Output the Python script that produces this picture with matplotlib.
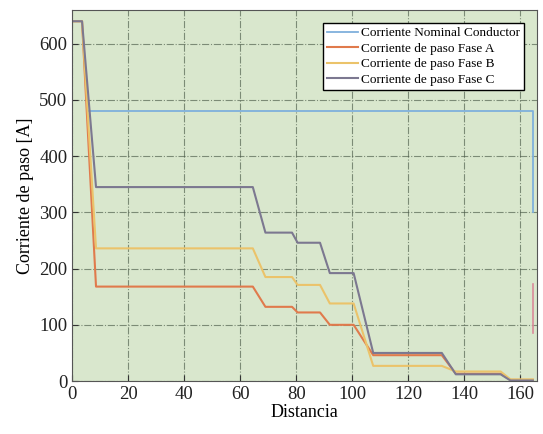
import numpy as np
import matplotlib
matplotlib.use('Agg')
import matplotlib.pyplot as plt

plt.rcParams['font.family'] = ['Liberation Serif', 'DejaVu Serif']

# corriente nominal del conductor
x_nom = [6, 164.5, 164.5]
y_nom = [480, 480, 300]

# corrientes de paso por fase
x_fase = [0, 3.5, 8.5, 64.5, 69, 78.5, 80.5, 88.5, 92, 100.5, 107.5, 132, 137, 153, 156.5, 164.5]
y_A = [640, 640, 168, 168, 132, 132, 122, 122, 100, 100, 46, 46, 13, 13, 2, 2]
y_B = [640, 640, 236, 236, 185, 185, 171, 171, 138, 138, 27, 27, 17, 17, 3, 3]
y_C = [640, 640, 345, 345, 264, 264, 246, 246, 192, 192, 50, 50, 12, 12, 1, 1]

# tramo suelto al final (fase A)
x_tramo = [164.5, 164.5]
y_tramo = [172, 86]

fig = plt.figure(figsize=(5.43, 4.34), dpi=100)
ax = fig.add_axes([0.133, 0.122, 0.856, 0.855])
ax.set_facecolor('#d9e7cd')

ax.plot(x_nom, y_nom, color='#7fb0dc', lw=1.3, label='Corriente Nominal Conductor')
ax.plot(x_fase, y_A, color='#e07a4c', lw=1.5, label='Corriente de paso Fase A')
ax.plot(x_fase, y_B, color='#ebc36a', lw=1.5, label='Corriente de paso Fase B')
ax.plot(x_fase, y_C, color='#7c7890', lw=1.5, label='Corriente de paso Fase C')
ax.plot(x_tramo, y_tramo, color='#d98a9a', lw=1.2)

ax.set_xlim(0, 166)
ax.set_ylim(0, 660)
ax.set_xticks(np.arange(0, 161, 20))
ax.set_yticks(np.arange(0, 601, 100))
ax.tick_params(labelsize=13.5, direction='in', length=4, colors='#333333')
for lab in ax.get_xticklabels() + ax.get_yticklabels():
    lab.set_color('#222222')
ax.grid(True, color='#4a5a48', linestyle='-.', linewidth=0.8, alpha=0.65)
for s in ax.spines.values():
    s.set_color('#555555')

ax.set_xlabel('Distancia', fontsize=13, labelpad=1)
ax.set_ylabel('Corriente de paso [A]', fontsize=13, labelpad=4)

leg = ax.legend(loc='upper right', fontsize=9.5, frameon=True, fancybox=False,
                handlelength=2.4, handletextpad=0.2, borderpad=0.3, labelspacing=0.25,
                borderaxespad=1.0)
leg.get_frame().set_edgecolor('black')
leg.get_frame().set_facecolor('white')
leg.get_frame().set_alpha(1)

fig.savefig('out.png', dpi=100)
plt.close()
